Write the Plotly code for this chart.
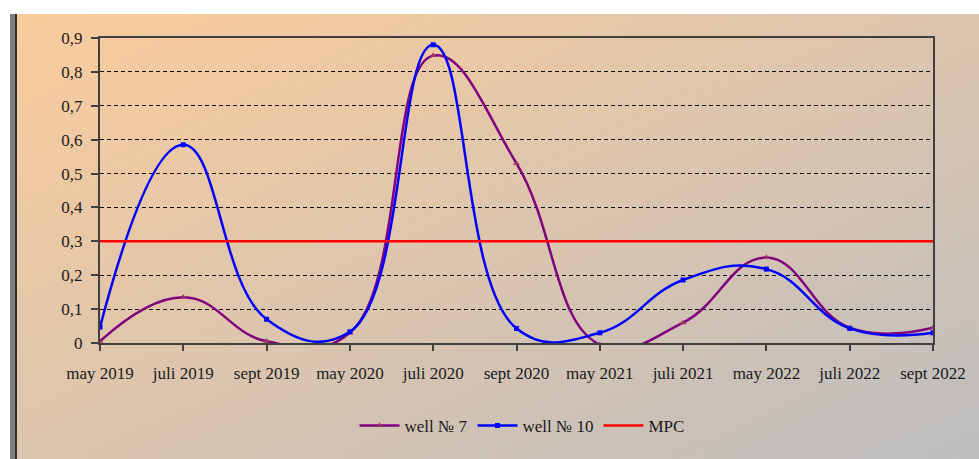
import base64, struct, zlib
import plotly.graph_objects as go

# ---- data ----
categories = ["may 2019", "juli 2019", "sept 2019", "may 2020", "juli 2020", "sept 2020",
              "may 2021", "juli 2021", "may 2022", "juli 2022", "sept 2022"]
well7 = [0.005, 0.135, 0.005, 0.03, 0.848, 0.53, -0.005, 0.06, 0.252, 0.045, 0.045]
well10 = [0.047, 0.585, 0.07, 0.033, 0.88, 0.043, 0.03, 0.186, 0.218, 0.043, 0.03]
mpc = [0.3] * len(categories)
ytick_vals = [0, 0.1, 0.2, 0.3, 0.4, 0.5, 0.6, 0.7, 0.8, 0.9]
ytick_text = ["0", "0,1", "0,2", "0,3", "0,4", "0,5", "0,6", "0,7", "0,8", "0,9"]

W, H = 979, 459


def gradient_png(w, h, c0, c1):
    rows = []
    for j in range(h):
        row = bytearray(b"\x00")
        for i in range(w):
            t = (i / (w - 1) + j / (h - 1)) / 2
            row += bytes(int(round(a + (b - a) * t)) for a, b in zip(c0, c1))
        rows.append(bytes(row))
    raw = b"".join(rows)

    def chunk(tag, data):
        c = tag + data
        return struct.pack(">I", len(data)) + c + struct.pack(">I", zlib.crc32(c) & 0xffffffff)

    png = b"\x89PNG\r\n\x1a\n" + chunk(b"IHDR", struct.pack(">IIBBBBB", w, h, 8, 2, 0, 0, 0)) \
        + chunk(b"IDAT", zlib.compress(raw, 9)) + chunk(b"IEND", b"")
    return "data:image/png;base64," + base64.b64encode(png).decode()


bg = gradient_png(120, 60, (250, 204, 156), (190, 190, 192))

font = dict(family="Liberation Serif, Times New Roman, serif", size=17, color="#1a1a1a")

fig = go.Figure()
fig.add_trace(go.Scatter(
    x=categories, y=well7, name="well № 7", mode="lines+markers",
    line=dict(color="#800080", width=2.5, shape="spline", smoothing=1.25),
    marker=dict(symbol="triangle-up", size=6, color="#993366"),
))
fig.add_trace(go.Scatter(
    x=categories, y=well10, name="well № 10", mode="lines+markers",
    line=dict(color="#0000FF", width=2.5, shape="spline", smoothing=1.25),
    marker=dict(symbol="square", size=5, color="#0000FF"),
))
fig.add_trace(go.Scatter(
    x=categories, y=mpc, name="MPC", mode="lines",
    line=dict(color="#FF0000", width=2.5),
))

fig.update_layout(
    template="none",
    width=W, height=H, autosize=False,
    margin=dict(l=0, r=0, t=0, b=0, pad=0, autoexpand=False),
    paper_bgcolor="white", plot_bgcolor="white",
    font=font,
    showlegend=True,
    legend=dict(orientation="h", x=522 / W, xanchor="center", y=1 - 426 / H, yanchor="middle",
                bgcolor="rgba(0,0,0,0)", font=font, itemwidth=40, tracegroupgap=0),
    xaxis=dict(
        domain=[100 / W, 933 / W], type="category", categoryorder="array", categoryarray=categories,
        range=[0, len(categories) - 1], showgrid=False, zeroline=False, automargin=False,
        showline=True, linecolor="#404040", linewidth=2, mirror=True,
        ticks="outside", ticklen=6, tickcolor="#404040", tickwidth=1.5,
        ticklabelstandoff=8, tickangle=0, tickfont=font,
    ),
    yaxis=dict(
        domain=[1 - 343 / H, 1 - 38 / H], range=[0, 0.9], automargin=False,
        tickvals=ytick_vals, ticktext=ytick_text,
        showgrid=True, gridcolor="#111111", gridwidth=1, griddash="4px,3px",
        zeroline=False, showline=True, linecolor="#404040", linewidth=2, mirror=True,
        ticks="outside", ticklen=7, tickcolor="#404040", tickwidth=1.5,
        ticklabelstandoff=5, tickfont=font,
    ),
    images=[dict(source=bg, xref="paper", yref="paper", x=17 / W, y=1 - 14 / H,
                 sizex=1 - 17 / W, sizey=1 - 14 / H, sizing="stretch",
                 xanchor="left", yanchor="top", layer="below")],
    shapes=[
        dict(type="rect", xref="paper", yref="paper", x0=10 / W, x1=15 / W, y0=0, y1=1 - 14 / H,
             fillcolor="#808080", line=dict(width=0), layer="below"),
        dict(type="rect", xref="paper", yref="paper", x0=15 / W, x1=17 / W, y0=0, y1=1 - 14 / H,
             fillcolor="#303030", line=dict(width=0), layer="below"),
    ],
)

fig.write_html("out.html", config={"displayModeBar": False},
               post_script="document.body.style.margin='0';document.body.style.overflow='hidden';")
